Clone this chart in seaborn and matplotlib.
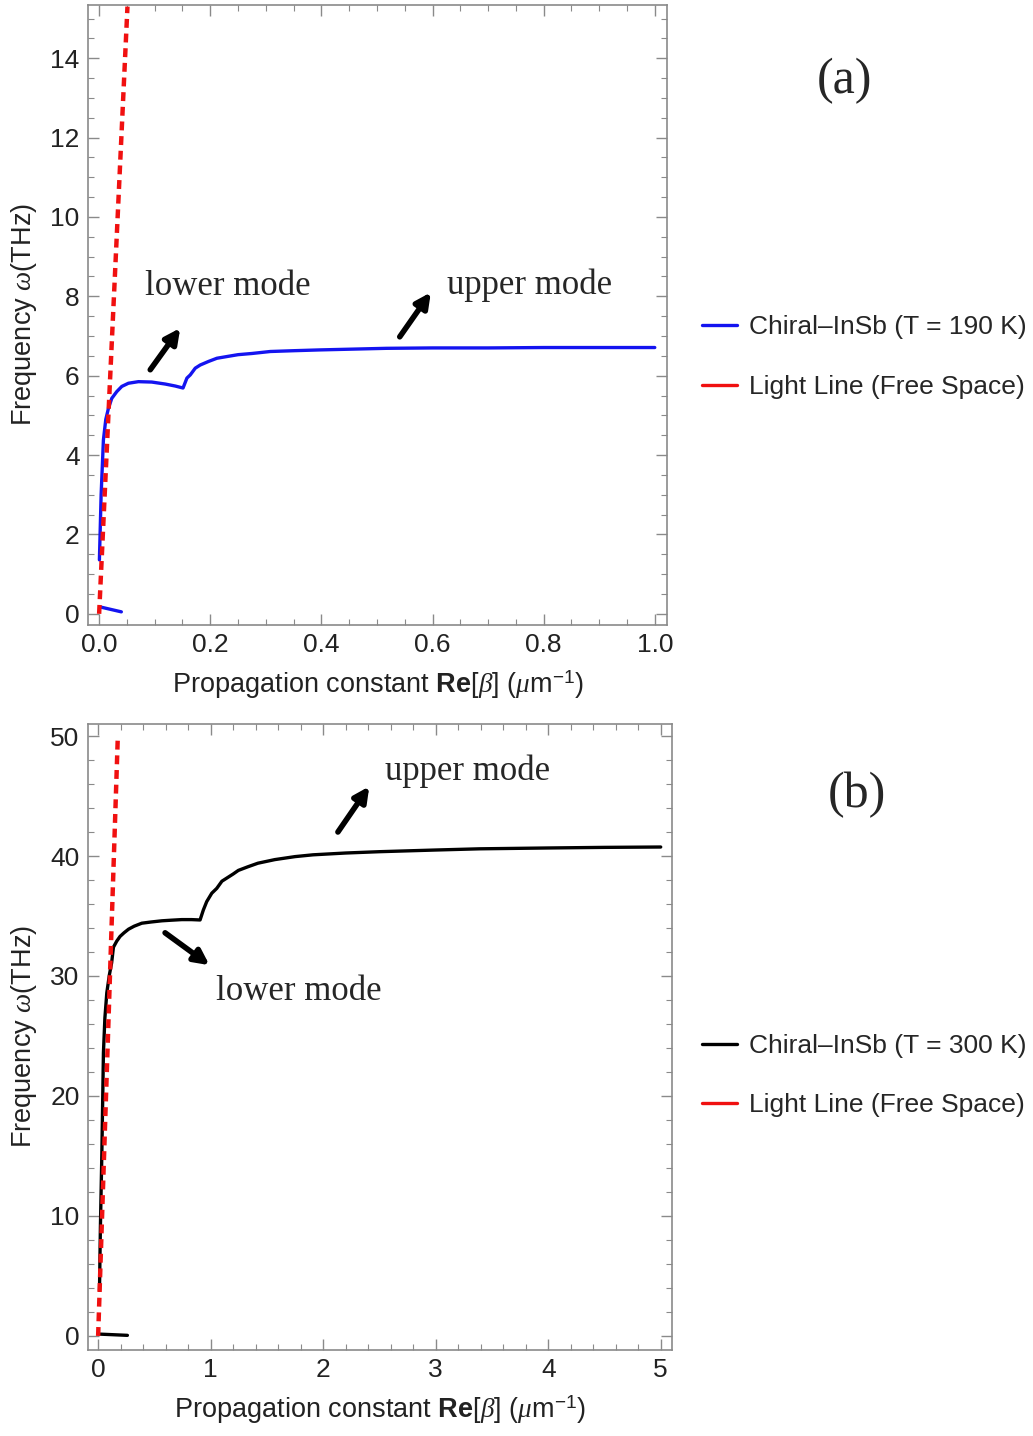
import matplotlib
matplotlib.use("Agg")
import matplotlib.pyplot as plt
from matplotlib.lines import Line2D
from matplotlib.ticker import MultipleLocator
import seaborn as sns

# (a) T = 190 K
a_beta = [0.0005, 0.0036, 0.0077, 0.012, 0.0168, 0.0228, 0.0318, 0.0408, 0.0527, 0.0707,
          0.0948, 0.119, 0.137, 0.151, 0.158, 0.164, 0.173, 0.182, 0.197, 0.212,
          0.233, 0.25, 0.275, 0.308, 0.35, 0.397, 0.457, 0.517, 0.6, 0.7, 0.8, 0.9, 1.0]
a_omega = [1.36, 3.0, 4.38, 4.9, 5.18, 5.43, 5.60, 5.73, 5.81, 5.85,
           5.84, 5.79, 5.74, 5.69, 5.94, 6.02, 6.19, 6.27, 6.36, 6.44,
           6.49, 6.53, 6.56, 6.61, 6.63, 6.65, 6.67, 6.69, 6.70, 6.70, 6.71, 6.71, 6.71]
a_low_beta = [0.003, 0.04]
a_low_omega = [0.17, 0.05]
a_light_beta = [0.0, 0.051]
a_light_omega = [0.0, 15.3]

# (b) T = 300 K
b_beta = [0.012, 0.02, 0.033, 0.047, 0.06, 0.077, 0.1, 0.12, 0.136, 0.165, 0.195, 0.23,
          0.27, 0.32, 0.388, 0.47, 0.566, 0.65, 0.743, 0.83, 0.906,
          0.935, 0.965, 1.01, 1.054, 1.10, 1.15, 1.20, 1.246, 1.33, 1.42, 1.57,
          1.75, 1.91, 2.2, 2.5, 3.0, 3.39, 4.0, 4.5, 5.0]
b_omega = [3.8, 9.0, 15.2, 23.6, 26.5, 28.6, 30.1, 31.1, 32.4, 32.9, 33.3, 33.6,
           33.9, 34.15, 34.4, 34.5, 34.6, 34.65, 34.7, 34.7, 34.67,
           35.5, 36.2, 36.9, 37.3, 37.9, 38.2, 38.5, 38.8, 39.1, 39.4, 39.7,
           39.95, 40.1, 40.25, 40.36, 40.5, 40.6, 40.67, 40.72, 40.75]
b_low_beta = [0.02, 0.26]
b_low_omega = [0.15, 0.05]
b_light_beta = [0.0, 0.175]
b_light_omega = [0.0, 50.0]

sns.set_style("white")
plt.rcParams['font.family'] = ['Liberation Sans', 'DejaVu Sans']
plt.rcParams['mathtext.fontset'] = 'custom'
plt.rcParams['mathtext.rm'] = 'Liberation Sans'
plt.rcParams['mathtext.it'] = 'Liberation Serif:italic'
plt.rcParams['mathtext.bf'] = 'Liberation Sans:bold'

RED = '#f01010'
GRAY = '#8a8a8a'
TXT = '#222222'

fig = plt.figure(figsize=(10.33, 14.36), dpi=100)
ax1 = fig.add_axes([0.0852, 0.5648, 0.5605, 0.4317])
ax2 = fig.add_axes([0.0852, 0.0599, 0.5653, 0.4359])


def draw(ax, beta, omega, lb, lo, gb, go, color):
    sns.lineplot(x=beta, y=omega, ax=ax, color=color, lw=2.4, sort=False)
    sns.lineplot(x=lb, y=lo, ax=ax, color=color, lw=2.4, sort=False)
    sns.lineplot(x=gb, y=go, ax=ax, color=RED, lw=3.2, sort=False,
                 linestyle=(0, (2.0, 1.3)))


def frame(ax, xmaj, xmin, ymaj, ymin):
    for s in ax.spines.values():
        s.set_color(GRAY)
        s.set_linewidth(1.2)
    ax.xaxis.set_major_locator(MultipleLocator(xmaj))
    ax.xaxis.set_minor_locator(MultipleLocator(xmin))
    ax.yaxis.set_major_locator(MultipleLocator(ymaj))
    ax.yaxis.set_minor_locator(MultipleLocator(ymin))
    ax.tick_params(which='both', direction='in', top=True, right=True,
                   bottom=True, left=True, color=GRAY, labelsize=19, labelcolor=TXT)
    ax.tick_params(which='major', length=8, width=1.0, pad=6)
    ax.tick_params(which='minor', length=4, width=0.8)
    ax.set_xlabel('Propagation constant $\\mathbf{Re}$[$\\beta$] ($\\mathit{\\mu}$m$^{-1}$)',
                  fontsize=19.5, color=TXT, labelpad=8)
    ax.set_ylabel('Frequency $\\omega$(THz)', fontsize=19.5, color=TXT, labelpad=8)


def arrow(ax, tail, head):
    ax.annotate('', xy=head, xytext=tail,
                arrowprops=dict(arrowstyle='-|>', lw=4, color='black',
                                mutation_scale=22, shrinkA=0, shrinkB=0))


serif = ['Liberation Serif', 'DejaVu Serif']

# panel (a)
draw(ax1, a_beta, a_omega, a_low_beta, a_low_omega, a_light_beta, a_light_omega, '#1414f0')
ax1.set_xlim(-0.02, 1.022)
ax1.set_ylim(-0.28, 15.34)
frame(ax1, 0.2, 0.05, 2, 0.5)
ax1.xaxis.set_major_formatter(plt.FuncFormatter(lambda v, p: f'{v:.1f}'))
ax1.text(0.232, 8.24, 'lower mode', fontsize=25, family=serif, ha='center', va='center')
ax1.text(0.775, 8.29, 'upper mode', fontsize=25, family=serif, ha='center', va='center')
arrow(ax1, (0.092, 6.15), (0.146, 7.20))
arrow(ax1, (0.541, 6.98), (0.597, 8.1))

# panel (b)
draw(ax2, b_beta, b_omega, b_low_beta, b_low_omega, b_light_beta, b_light_omega, 'black')
ax2.set_xlim(-0.09, 5.1)
ax2.set_ylim(-1.17, 51)
frame(ax2, 1, 0.2, 10, 2)
ax2.text(3.286, 47.1, 'upper mode', fontsize=25, family=serif, ha='center', va='center')
ax2.text(1.785, 28.67, 'lower mode', fontsize=25, family=serif, ha='center', va='center')
arrow(ax2, (2.131, 42.0), (2.41, 45.8))
arrow(ax2, (0.595, 33.6), (0.99, 30.9))

fig.text(0.818, 0.944, '(a)', fontsize=36, family=serif, ha='center', va='center')
fig.text(0.8296, 0.4464, '(b)', fontsize=36, family=serif, ha='center', va='center')

legend_kw = dict(loc='center left', frameon=False, fontsize=19, handlelength=1.3,
                 handletextpad=0.45, labelspacing=1.35, borderpad=0, borderaxespad=0,
                 bbox_transform=fig.transFigure)
ax1.legend([Line2D([], [], color='#1414f0', lw=2.4), Line2D([], [], color=RED, lw=2.4)],
           ['Chiral\u2013InSb (T = 190 K)', 'Light Line (Free Space)'],
           bbox_to_anchor=(0.68, 0.7514), **legend_kw)
ax2.legend([Line2D([], [], color='black', lw=2.4), Line2D([], [], color=RED, lw=2.4)],
           ['Chiral\u2013InSb (T = 300 K)', 'Light Line (Free Space)'],
           bbox_to_anchor=(0.68, 0.2510), **legend_kw)

fig.savefig('out.png', dpi=100, facecolor='white')
